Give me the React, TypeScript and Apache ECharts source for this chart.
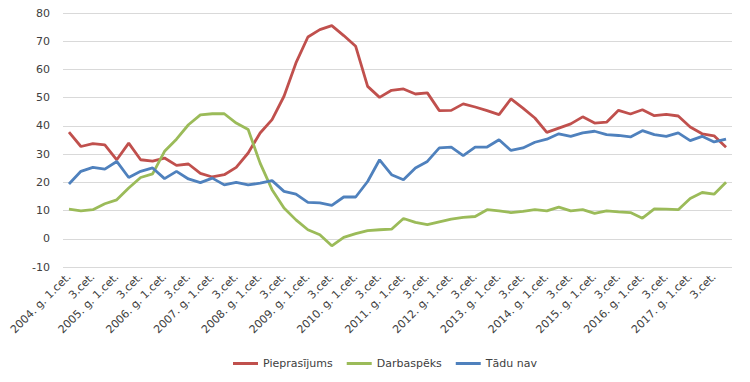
import React, { useEffect, useRef } from "react";
import * as echarts from "echarts";

const years = [2004, 2005, 2006, 2007, 2008, 2009, 2010, 2011, 2012, 2013, 2014, 2015, 2016, 2017];
const quarters = ["1.cet.", "2.cet.", "3.cet.", "4.cet."];
const categories: string[] = [];
years.forEach((y) => quarters.forEach((q, i) => categories.push(i === 0 ? `${y}. g. ${q}` : q)));

const pieprasijums = [
  37.8, 32.7, 33.7, 33.3, 28.0, 33.9, 28.0, 27.5, 28.6, 26.0, 26.5, 23.2, 21.9, 22.7,
  25.3, 30.4, 37.5, 42.2, 50.5, 62.3, 71.5, 74.1, 75.5, 72.0, 68.2, 54.0, 50.1, 52.6,
  53.1, 51.3, 51.7, 45.4, 45.5, 47.8, 46.7, 45.4, 44.0, 49.6, 46.3, 42.8, 37.7, 39.2,
  40.7, 43.2, 41.0, 41.3, 45.5, 44.2, 45.7, 43.6, 44.1, 43.5, 39.6, 37.2, 36.5, 32.4,
];
const darbaspeks = [
  10.5, 9.9, 10.3, 12.4, 13.8, 18.0, 21.7, 23.0, 31.0, 35.3, 40.4, 43.9, 44.3, 44.3,
  41.0, 38.7, 26.8, 17.4, 10.9, 6.7, 3.2, 1.4, -2.5, 0.5, 1.8, 2.9, 3.2, 3.4,
  7.2, 5.8, 5.0, 6.0, 7.0, 7.6, 7.9, 10.3, 9.9, 9.3, 9.7, 10.3, 9.9, 11.2,
  9.9, 10.3, 9.0, 9.9, 9.5, 9.3, 7.3, 10.6, 10.5, 10.3, 14.3, 16.4, 15.8, 20.0,
];
const taduNav = [
  19.4, 23.9, 25.3, 24.7, 27.4, 21.7, 23.9, 25.1, 21.3, 23.9, 21.2, 19.9, 21.5, 19.1,
  20.0, 19.1, 19.7, 20.6, 16.8, 15.8, 12.9, 12.7, 11.8, 14.8, 14.8, 20.3, 28.0, 22.7,
  20.9, 25.1, 27.4, 32.2, 32.5, 29.5, 32.5, 32.5, 35.1, 31.3, 32.2, 34.2, 35.3, 37.2,
  36.3, 37.5, 38.1, 36.9, 36.6, 36.1, 38.3, 36.9, 36.3, 37.5, 34.8, 36.3, 34.3, 35.3,
];

const FONT = "'DejaVu Sans', Verdana, sans-serif";

export default function App() {
  const ref = useRef<HTMLDivElement>(null);
  useEffect(() => {
    const chart = echarts.init(ref.current!, undefined, { renderer: "svg" });
    const mk = (name: string, data: number[], color: string) => ({
      name,
      type: "line",
      data,
      symbol: "none",
      lineStyle: { color, width: 2.8 },
      itemStyle: { color },
    });
    chart.setOption({
      animation: false,
      backgroundColor: "#ffffff",
      textStyle: { fontFamily: FONT },
      grid: { left: 63, right: 18, top: 13, bottom: 115 },
      legend: {
        bottom: 8,
        left: 228,
        icon: "rect",
        itemWidth: 25,
        itemHeight: 3,
        itemGap: 14,
        textStyle: { fontFamily: FONT, fontSize: 11, color: "#404040" },
        data: ["Pieprasījums", "Darbaspēks", "Tādu nav"],
      },
      xAxis: {
        type: "category",
        data: categories,
        boundaryGap: true,
        axisLine: { show: false },
        axisTick: { show: false },
        axisLabel: {
          interval: 1,
          rotate: 45,
          margin: 8,
          fontFamily: FONT,
          fontSize: 11,
          color: "#404040",
        },
      },
      yAxis: {
        type: "value",
        min: -10,
        max: 80,
        interval: 10,
        axisLine: { show: false },
        axisTick: { show: false },
        splitLine: { lineStyle: { color: "#d9d9d9", width: 1 } },
        axisLabel: { margin: 13, fontFamily: FONT, fontSize: 11, color: "#404040" },
      },
      series: [
        mk("Pieprasījums", pieprasijums, "#C0504D"),
        mk("Darbaspēks", darbaspeks, "#9BBB59"),
        mk("Tādu nav", taduNav, "#4F81BD"),
      ],
    });
    return () => chart.dispose();
  }, []);
  return <div ref={ref} style={{ width: 750, height: 382, margin: -8 }} />;
}
